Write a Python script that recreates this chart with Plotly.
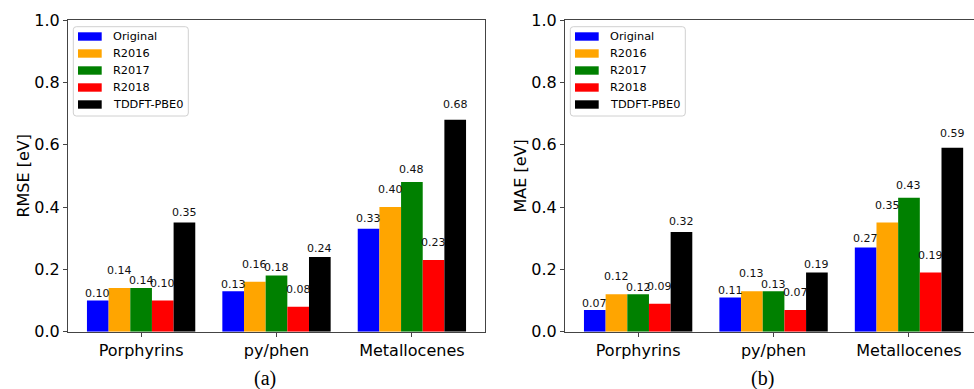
import plotly.graph_objects as go
from plotly.subplots import make_subplots

categories = ["Porphyrins", "py/phen", "Metallocenes"]
series_names = ["Original", "R2016", "R2017", "R2018", "TDDFT-PBE0"]

rmse_original = [0.10, 0.13, 0.33]
rmse_r2016 = [0.14, 0.16, 0.40]
rmse_r2017 = [0.14, 0.18, 0.48]
rmse_r2018 = [0.10, 0.08, 0.23]
rmse_tddft = [0.35, 0.24, 0.68]

mae_original = [0.07, 0.11, 0.27]
mae_r2016 = [0.12, 0.13, 0.35]
mae_r2017 = [0.12, 0.13, 0.43]
mae_r2018 = [0.09, 0.07, 0.19]
mae_tddft = [0.32, 0.19, 0.59]

y_ticks = [0.0, 0.2, 0.4, 0.6, 0.8, 1.0]

rmse_series = [rmse_original, rmse_r2016, rmse_r2017, rmse_r2018, rmse_tddft]
mae_series = [mae_original, mae_r2016, mae_r2017, mae_r2018, mae_tddft]

colors = ["#0000ff", "#ffa500", "#008000", "#ff0000", "#000000"]
# value labels: some series are lifted a little more so neighbours don't collide
label_mode = ["scale", "lift", "scale", "lift", "scale"]

FONT = "DejaVu Sans"
W, H = 974, 389

# panel geometry in pixels (left edge of each plotting area, shared top/bottom)
panel_left = [68, 565]
panel_right = [485, W]
plot_top, plot_bottom = 20, 331.7


def px_x(v):
    return v / W


def px_y(v):
    return 1 - v / H


fig = make_subplots(rows=1, cols=2)

annotations = []
shapes = []
for col, (data, xref, yref) in enumerate(
    [(rmse_series, "x", "y"), (mae_series, "x2", "y2")], start=1
):
    for i, (name, vals) in enumerate(zip(series_names, data)):
        fig.add_trace(
            go.Bar(
                x=categories,
                y=vals,
                name=name,
                marker=dict(color=colors[i], line=dict(width=0)),
                offsetgroup=str(i),
                showlegend=False,
            ),
            row=1,
            col=col,
        )
        # position of each value label follows the same grouped-bar offsets
        for j, v in enumerate(vals):
            base = v * 1.05 if label_mode[i] == "scale" else v + 0.04
            annotations.append(
                dict(
                    x=j - 0.4 + 0.08 + 0.16 * i,
                    y=base,
                    xref=xref,
                    yref=yref,
                    text=f"{v:.2f}",
                    showarrow=False,
                    yanchor="middle",
                    yshift=5,
                    font=dict(family=FONT, size=11, color="#111111"),
                )
            )

    # legend box in the upper-left corner of each panel
    x0 = panel_left[col - 1] + 5.3
    x1 = x0 + 115
    y0, y1 = 26.7, 116
    r = 3
    path = (
        f"M {px_x(x0 + r)},{px_y(y0)} L {px_x(x1 - r)},{px_y(y0)} "
        f"Q {px_x(x1)},{px_y(y0)} {px_x(x1)},{px_y(y0 + r)} "
        f"L {px_x(x1)},{px_y(y1 - r)} Q {px_x(x1)},{px_y(y1)} {px_x(x1 - r)},{px_y(y1)} "
        f"L {px_x(x0 + r)},{px_y(y1)} Q {px_x(x0)},{px_y(y1)} {px_x(x0)},{px_y(y1 - r)} "
        f"L {px_x(x0)},{px_y(y0 + r)} Q {px_x(x0)},{px_y(y0)} {px_x(x0 + r)},{px_y(y0)} Z"
    )
    shapes.append(dict(type="path", path=path, xref="paper", yref="paper",
                       line=dict(color="#d0d0d0", width=1),
                       fillcolor="rgba(255,255,255,0.8)", layer="above"))
    for i, name in enumerate(series_names):
        cy = 36.5 + 17 * i
        shapes.append(dict(type="rect", xref="paper", yref="paper",
                           x0=px_x(x0 + 4.7), x1=px_x(x0 + 28.4),
                           y0=px_y(cy - 4.2), y1=px_y(cy + 4.2),
                           fillcolor=colors[i], line=dict(width=0), layer="above"))
        annotations.append(dict(x=px_x(x0 + 37.5), y=px_y(cy), xref="paper", yref="paper",
                                text=name, showarrow=False, xanchor="left",
                                yanchor="middle",
                                font=dict(family=FONT, size=11.3, color="#000000")))

annotations += [
    dict(x=0.272, y=0.028, xref="paper", yref="paper", text="(a)", showarrow=False,
         xanchor="center", yanchor="middle",
         font=dict(family="Liberation Serif", size=20, color="#000000")),
    dict(x=0.783, y=0.028, xref="paper", yref="paper", text="(b)", showarrow=False,
         xanchor="center", yanchor="middle",
         font=dict(family="Liberation Serif", size=20, color="#000000")),
]

axis_line = dict(showline=True, linecolor="#444444", linewidth=1, ticks="outside",
                 ticklen=4, tickcolor="#444444", showgrid=False, zeroline=False,
                 automargin=False,
                 tickfont=dict(family=FONT, size=16, color="#000000"))

y_dom = [px_y(plot_bottom), px_y(plot_top)]

fig.update_layout(
    width=W,
    height=H,
    margin=dict(l=0, r=0, t=0, b=0, autoexpand=False),
    paper_bgcolor="white",
    plot_bgcolor="white",
    barmode="group",
    bargap=0.2,
    bargroupgap=0,
    showlegend=False,
    annotations=annotations,
    shapes=shapes,
    xaxis=dict(domain=[px_x(panel_left[0]), px_x(panel_right[0])], range=[-0.54, 2.54],
               mirror=True, type="category", **axis_line),
    yaxis=dict(domain=y_dom, range=[0, 1.0], tickvals=y_ticks, tickformat=".1f",
               mirror=True,
               title=dict(text="RMSE [eV]", font=dict(family=FONT, size=16, color="#000000"),
                          standoff=0),
               **axis_line),
    xaxis2=dict(domain=[px_x(panel_left[1]), px_x(panel_right[1])], range=[-0.54, 2.48],
                mirror=True, type="category", **axis_line),
    yaxis2=dict(domain=y_dom, range=[0, 1.0], tickvals=y_ticks, tickformat=".1f",
                mirror=False,
                title=dict(text="MAE [eV]", font=dict(family=FONT, size=16, color="#000000"),
                           standoff=0),
                **axis_line),
)

fig.write_html("out.html")
